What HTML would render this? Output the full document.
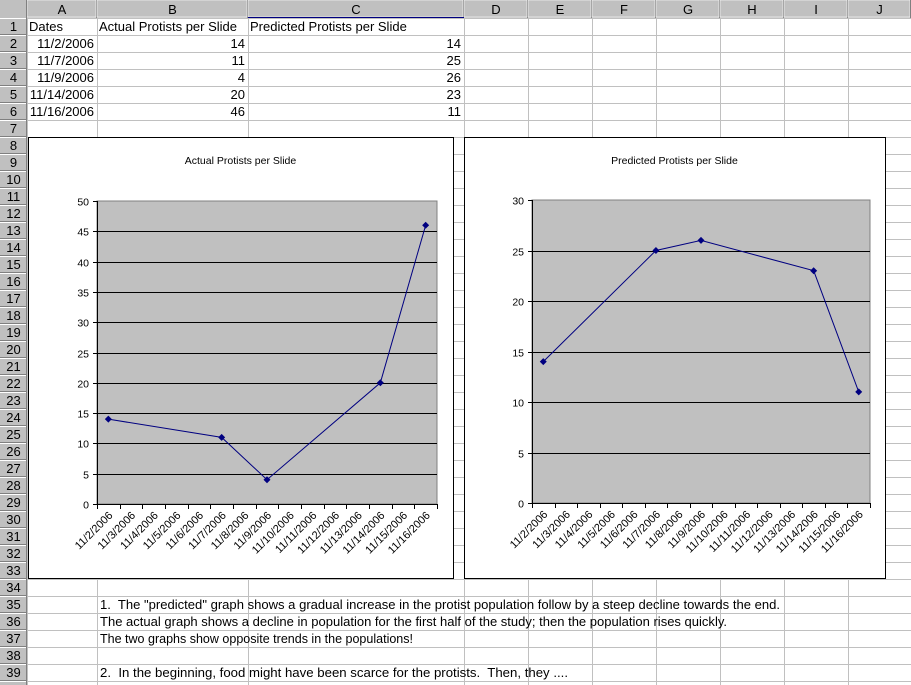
<!DOCTYPE html>
<html><head><meta charset="utf-8"><style>
body{margin:0;background:#fff;width:911px;height:685px;overflow:hidden}
svg{display:block;font-family:"Liberation Sans",Arial,sans-serif}
</style></head><body>
<svg id="s" width="911" height="685" xmlns="http://www.w3.org/2000/svg"></svg>
<script>
const days = ["11/2/2006","11/3/2006","11/4/2006","11/5/2006","11/6/2006","11/7/2006","11/8/2006","11/9/2006","11/10/2006","11/11/2006","11/12/2006","11/13/2006","11/14/2006","11/15/2006","11/16/2006"];
const dates = ["11/2/2006","11/7/2006","11/9/2006","11/14/2006","11/16/2006"];
const actual = [14,11,4,20,46];
const predicted = [14,25,26,23,11];
const actualTicks = [0,5,10,15,20,25,30,35,40,45,50];
const predTicks = [0,5,10,15,20,25,30];

const NS="http://www.w3.org/2000/svg";
const s=document.getElementById('s');
function el(tag,attrs,parent,text){const e=document.createElementNS(NS,tag);for(const k in attrs)e.setAttribute(k,attrs[k]);if(text!==undefined)e.textContent=text;(parent||s).appendChild(e);return e;}

const colX=[27,97,248,464,528,592,656,720,784,848,911];
const colL=["A","B","C","D","E","F","G","H","I","J"];
const rowTop=18,rowH=17,nRows=40;
for(let r=0;r<=nRows;r++){el('line',{x1:27,x2:911,y1:rowTop+r*rowH+0.5,y2:rowTop+r*rowH+0.5,stroke:'#c0c0c0'});}
for(let c=0;c<colX.length;c++){el('line',{x1:colX[c]+0.5,x2:colX[c]+0.5,y1:18,y2:685,stroke:'#c0c0c0'});}
el('rect',{x:0,y:0,width:911,height:18,fill:'#c0c0c0'});
for(let c=0;c<colL.length;c++){
  const g=el('g',{});
  
  
  el('rect',{x:colX[c],y:0,width:colX[c+1]-colX[c]-1,height:17,fill:'#c0c0c0',stroke:'#fff','stroke-width':0.6},g);
  el('line',{x1:colX[c+1]-0.5,x2:colX[c+1]-0.5,y1:0,y2:18,stroke:'#808080'},g);
  el('text',{x:(colX[c]+colX[c+1])/2,y:14,'font-size':13,'text-anchor':'middle',fill:'#000'},g,colL[c]);
}
el('line',{x1:248,x2:464,y1:17.5,y2:17.5,stroke:'#000080'});
el('rect',{x:0,y:18,width:27,height:667,fill:'#c0c0c0'});
for(let r=0;r<nRows;r++){
  const y=rowTop+r*rowH;
  const g=el('g',{});
  
  
  el('line',{x1:0,x2:27,y1:y+rowH-0.5,y2:y+rowH-0.5,stroke:'#808080'},g);
  el('line',{x1:0,x2:27,y1:y+0.5,y2:y+0.5,stroke:'#fff'},g);
  el('text',{x:13.5,y:y+13,'font-size':13,'text-anchor':'middle',fill:'#000'},g,String(r+1));
}
el('line',{x1:26.5,x2:26.5,y1:0,y2:685,stroke:'#808080'});

function cell(txt,col,row,align,name){
  const y=rowTop+(row-1)*rowH+13;
  const x=align==='r'?colX[col+1]-3:colX[col]+2;
  const t=el('text',{x:x,y:y,'font-size':13,'text-anchor':align==='r'?'end':'start',fill:'#000'},s,txt);
  
  
  return t;
}
cell("Dates",0,1,'l','header-dates');
cell("Actual Protists per Slide",1,1,'l','header-actual');
cell("Predicted Protists per Slide",2,1,'l','header-predicted');
for(let i=0;i<dates.length;i++){
  cell(dates[i],0,i+2,'r','date-cell');
  cell(String(actual[i]),1,i+2,'r','actual-cell');
  cell(String(predicted[i]),2,i+2,'r','predicted-cell');
}
const notes=[[35,"1.  The \"predicted\" graph shows a gradual increase in the protist population follow by a steep decline towards the end.",680],
[36,"The actual graph shows a decline in population for the first half of the study; then the population rises quickly.",627],
[37,"The two graphs show opposite trends in the populations!",313],
[39,"2.  In the beginning, food might have been scarce for the protists.  Then, they ....",468]];
for(const n of notes){
  const t=el('text',{x:100,y:rowTop+(n[0]-1)*rowH+13,'font-size':12.5,fill:'#000',textLength:n[2],lengthAdjust:'spacingAndGlyphs','xml:space':'preserve',style:'white-space:pre'},s,n[1]);
  
  
}

function chart(name,box,plot,title,vals,ticks,max){
  const g=el('g',{});
  
  
  el('rect',{x:box.x+0.5,y:box.y+0.5,width:box.w,height:box.h,fill:'#fff',stroke:'#000'},g);
  const tt=el('text',{x:box.x+box.w/2,y:box.y+27,'font-size':10.5,'text-anchor':'middle'},g,title);
  
  
  const yS=v=>plot.y1-(v/max)*(plot.y1-plot.y0);
  const slot=(plot.x1-plot.x0)/days.length;
  const xS=d=>plot.x0+(days.indexOf(d)+0.5)*slot;
  el('rect',{x:plot.x0,y:plot.y0,width:plot.x1-plot.x0,height:plot.y1-plot.y0,fill:'#c0c0c0',stroke:'#808080'},g);
  for(const t of ticks){
    const y=Math.round(yS(t))+0.5;
    if(t>0&&t<max){const gl=el('line',{x1:plot.x0,x2:plot.x1,y1:y,y2:y,stroke:'#000'},g);}
    el('line',{x1:plot.x0-4,x2:plot.x0,y1:y,y2:y,stroke:'#000'},g);
    const lb=el('text',{x:plot.x0-8,y:y+4,'font-size':10.5,'text-anchor':'end'},g,String(t));
    
    
  }
  el('line',{x1:plot.x0+0.5,x2:plot.x0+0.5,y1:plot.y0,y2:plot.y1,stroke:'#000'},g);
  el('line',{x1:plot.x0,x2:plot.x1,y1:plot.y1+0.5,y2:plot.y1+0.5,stroke:'#000'},g);
  for(let i=0;i<=days.length;i++){
    const x=Math.round(plot.x0+i*slot)+0.5;
    el('line',{x1:x,x2:x,y1:plot.y1,y2:plot.y1+5,stroke:'#000'},g);
  }
  for(let i=0;i<days.length;i++){
    const x=plot.x0+(i+0.5)*slot+5, y=plot.y1+12;
    const lb=el('text',{x:x,y:y,'font-size':11,'text-anchor':'end',transform:`rotate(-45 ${x} ${y})`},g,days[i]);
    
    
  }
  const pts=dates.map((d,i)=>[xS(d),yS(vals[i])]);
  const line=el('polyline',{points:pts.map(p=>p.join(',')).join(' '),fill:'none',stroke:'#000080','stroke-width':1},g);
  
  
  for(const p of pts){
    const m=el('polygon',{points:`${p[0]},${p[1]-3.5} ${p[0]+3.5},${p[1]} ${p[0]},${p[1]+3.5} ${p[0]-3.5},${p[1]}`,fill:'#000080'},g);
    
    
  }
}
chart('actual-chart',{x:28,y:137,w:425,h:441},{x0:97,x1:437,y0:201,y1:504},"Actual Protists per Slide",actual,actualTicks,50);
chart('predicted-chart',{x:464,y:137,w:421,h:441},{x0:532,x1:870,y0:200,y1:503},"Predicted Protists per Slide",predicted,predTicks,30);
</script>
</body></html>
